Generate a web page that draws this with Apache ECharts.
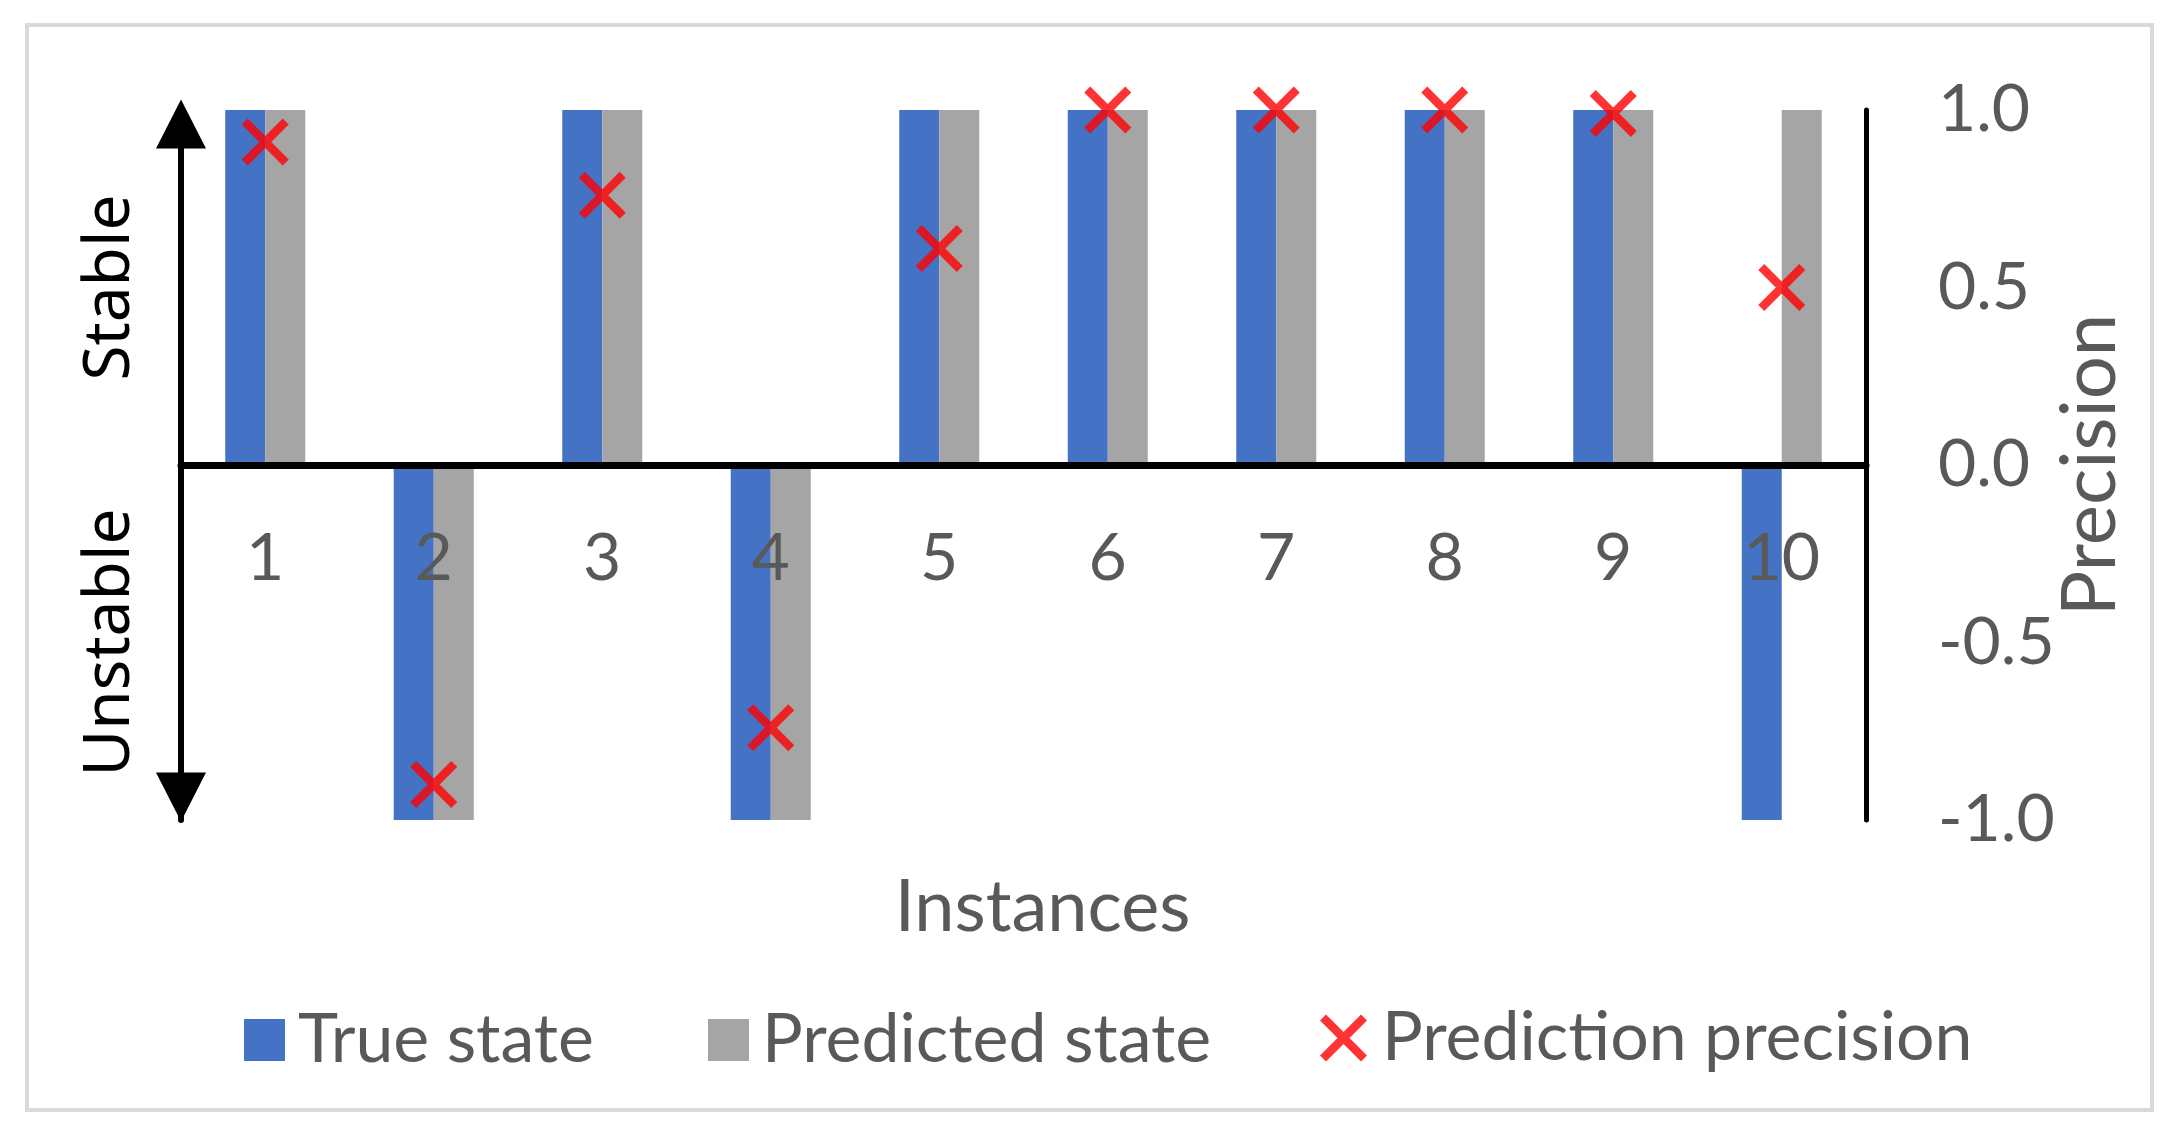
<!DOCTYPE html>
<html>
<head>
<meta charset="utf-8">
<script src="https://cdn.jsdelivr.net/npm/echarts@6/dist/echarts.min.js"></script>
<style>
html,body{margin:0;padding:0;background:#fff;}
#chart{width:2180px;height:1136px;}
</style>
</head>
<body>
<div id="chart"></div>
<script>
const categories = ['1','2','3','4','5','6','7','8','9','10'];
const trueState = [1,-1,1,-1,1,1,1,1,1,-1];
const predictedState = [1,-1,1,-1,1,1,1,1,1,1];
const precision = [0.91,-0.9,0.76,-0.74,0.61,1.0,1.0,1.0,0.99,0.5];
const rightTicks = [-1.0,-0.5,0.0,0.5,1.0];
const sideLabels = {'0.5':'Stable','-0.5':'Unstable'};

const crossPath = 'path://M0,6 L6,0 L47,41 L41,47 Z M6,47 L0,41 L41,0 L47,6 Z';
const grayText = '#595959';
const mainFont = 'Lato';

const chart = echarts.init(document.getElementById('chart'), null, {renderer:'canvas'});
chart.setOption({
  backgroundColor:'#ffffff',
  animation:false,
  graphic:[{
    type:'rect', shape:{x:27,y:25,width:2125,height:1085},
    style:{fill:'none',stroke:'#D9D9D9',lineWidth:4}, silent:true, z:-1
  }],
  grid:{left:181,right:314,top:110,bottom:316,containLabel:false,outerBoundsMode:'none'},
  legend:[
    {data:['True state'],left:239,top:1001,itemWidth:41,itemHeight:42,icon:'rect',
     textStyle:{fontFamily:mainFont,fontSize:68,color:grayText,padding:[0,0,0,8]}},
    {data:['Predicted state'],left:703,top:1001,itemWidth:41,itemHeight:42,icon:'rect',
     textStyle:{fontFamily:mainFont,fontSize:68,color:grayText,padding:[0,0,0,8]}},
    {data:['Prediction precision'],left:1315,top:999,itemWidth:47,itemHeight:47,
     textStyle:{fontFamily:mainFont,fontSize:68,color:grayText,padding:[0,0,0,10]}}
  ],
  xAxis:{
    type:'category', data:categories, z:5,
    axisLine:{show:true,onZero:true,lineStyle:{color:'#000',width:7}},
    axisTick:{show:false},
    axisLabel:{fontFamily:mainFont,fontSize:66,color:grayText,margin:-294},
    splitLine:{show:false},
    name:'Instances', nameLocation:'middle', nameGap:52, nameMoveOverlap:false,
    nameTextStyle:{fontFamily:mainFont,fontSize:72,color:grayText,padding:[0,0,0,38]}
  },
  yAxis:[
    {
      type:'value', min:-1, max:1, interval:0.5, position:'left', z:5,
      axisLine:{show:true,onZero:false,symbol:['triangle','triangle'],symbolSize:[50,49],symbolOffset:[23,-14],
        lineStyle:{color:'#000',width:6}},
      axisTick:{show:false}, splitLine:{show:false},
      axisLabel:{rotate:90,fontFamily:'Noto Sans',fontSize:64,color:'#000',margin:38,
        formatter:function(v){ const k = String(v); return sideLabels[k] || ''; }}
    },
    {
      type:'value', min:-1, max:1, interval:0.5, position:'right', z:5,
      axisLine:{show:true,onZero:false,lineStyle:{color:'#000',width:5}},
      axisTick:{show:false}, splitLine:{show:false},
      axisLabel:{fontFamily:mainFont,fontSize:66,color:grayText,margin:72,
        formatter:function(v){ return v.toFixed(1); }},
      name:'Precision', nameLocation:'middle', nameGap:186, nameMoveOverlap:false,
      nameTextStyle:{fontFamily:mainFont,fontSize:76,color:grayText}
    }
  ],
  series:[
    {name:'True state',type:'bar',data:trueState,barWidth:40,barGap:'0%',
     itemStyle:{color:'#4472C4'},yAxisIndex:0},
    {name:'Predicted state',type:'bar',data:predictedState,barWidth:40,barGap:'0%',
     itemStyle:{color:'#A5A5A5'},yAxisIndex:0},
    {name:'Prediction precision',type:'scatter',data:precision,yAxisIndex:1,
     symbol:crossPath,symbolSize:[47,47],itemStyle:{color:'#FF0000'},z:6}
  ]
});
</script>
</body>
</html>
